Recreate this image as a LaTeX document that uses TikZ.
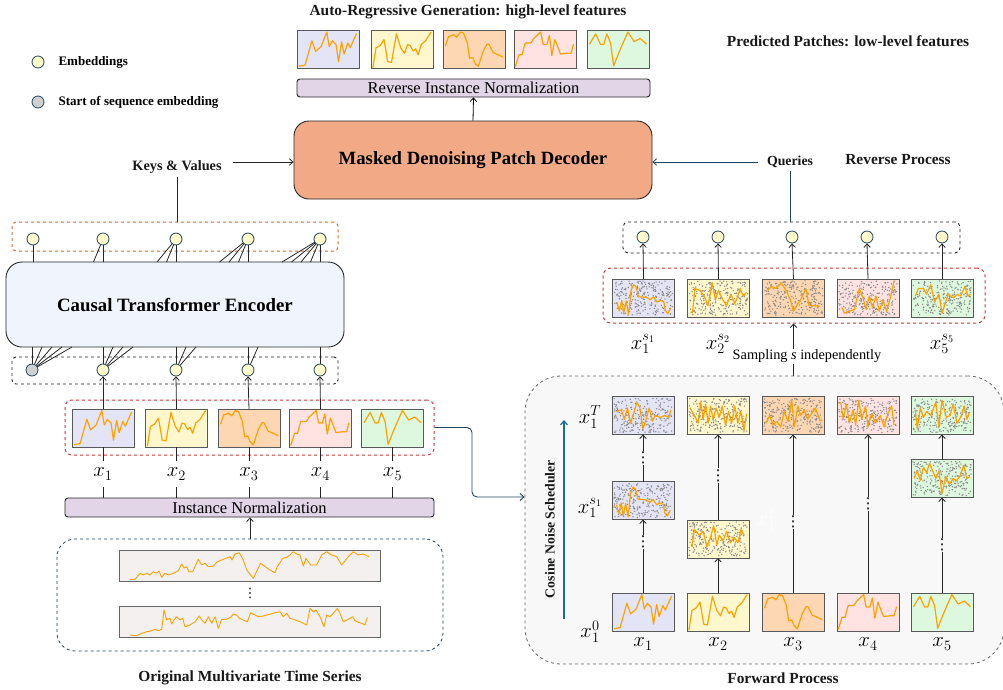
\documentclass[tikz,border=0pt]{standalone}
\usepackage{fontspec}
\setmainfont{Liberation Serif}
\newfontfamily\dvfont{DejaVu Sans}
\usetikzlibrary{arrows.meta,calc}
\definecolor{slate}{HTML}{23445D}
\definecolor{embc}{HTML}{FFFBCB}
\definecolor{sosc}{HTML}{D0D0D0}
\definecolor{pblue}{HTML}{E4E4F7}
\definecolor{pyel}{HTML}{FFF8CE}
\definecolor{porg}{HTML}{FDD7B3}
\definecolor{ppink}{HTML}{FFE2E2}
\definecolor{pgreen}{HTML}{DDF8DE}
\definecolor{sparkc}{HTML}{FFA200}
\definecolor{noisec}{HTML}{888888}
\definecolor{lav}{HTML}{E1D5E7}
\definecolor{decc}{HTML}{F2AA86}
\definecolor{encc}{HTML}{F0F5FD}
\definecolor{orgdash}{HTML}{DD6A2E}
\definecolor{reddash}{HTML}{D33434}
\definecolor{fwbg}{HTML}{F8F8F8}
\definecolor{schedc}{HTML}{15709A}
\definecolor{serbg}{HTML}{F4F0EF}

\newcommand\serA{(0.03,0.06) -- (0.13,0.09) -- (0.24,0.73) -- (0.30,0.45) -- (0.39,0.58) -- (0.48,0.96) -- (0.52,0.58) -- (0.57,0.73) -- (0.63,0.63) -- (0.67,0.18) -- (0.72,0.70) -- (0.76,0.38) -- (0.82,0.67) -- (0.86,0.55) -- (0.96,0.92)}
\newcommand\serB{(0.03,0.02) -- (0.08,0.54) -- (0.15,0.61) -- (0.21,0.76) -- (0.27,0.18) -- (0.33,0.16) -- (0.41,0.91) -- (0.48,0.54) -- (0.54,0.40) -- (0.59,0.63) -- (0.63,0.61) -- (0.68,0.46) -- (0.72,0.52) -- (0.76,0.36) -- (0.81,0.63) -- (0.88,0.73) -- (0.97,0.96)}
\newcommand\serC{(0.04,0.60) -- (0.09,0.84) -- (0.17,0.89) -- (0.22,0.82) -- (0.28,0.96) -- (0.33,0.93) -- (0.39,0.69) -- (0.43,0.27) -- (0.48,0.29) -- (0.52,0.13) -- (0.57,0.06) -- (0.65,0.46) -- (0.71,0.64) -- (0.74,0.64) -- (0.81,0.42) -- (0.89,0.36) -- (0.97,0.30)}
\newcommand\serD{(0.02,0.04) -- (0.08,0.36) -- (0.13,0.36) -- (0.18,0.67) -- (0.27,0.67) -- (0.32,0.79) -- (0.43,0.96) -- (0.47,0.63) -- (0.53,0.63) -- (0.57,0.87) -- (0.61,0.34) -- (0.66,0.76) -- (0.75,0.38) -- (0.84,0.40) -- (0.92,0.40) -- (0.96,0.64)}
\newcommand\serE{(0.04,0.64) -- (0.14,0.91) -- (0.22,0.63) -- (0.27,0.63) -- (0.32,0.91) -- (0.38,0.67) -- (0.43,0.07) -- (0.51,0.40) -- (0.58,0.67) -- (0.66,0.96) -- (0.76,0.71) -- (0.86,0.79) -- (0.96,0.64)}
\newcommand\nzA{(0.07,0.39) -- (0.11,0.16) -- (0.15,0.44) -- (0.18,0.09) -- (0.22,0.42) -- (0.26,0.07) -- (0.30,0.71) -- (0.34,0.85) -- (0.38,0.80) -- (0.42,0.53) -- (0.48,0.53) -- (0.56,0.51) -- (0.61,0.45) -- (0.66,0.53) -- (0.72,0.39) -- (0.78,0.44) -- (0.83,0.39) -- (0.85,0.18) -- (0.89,0.09) -- (0.94,0.24)}
\newcommand\nzB{(0.08,0.10) -- (0.12,0.75) -- (0.20,0.70) -- (0.27,0.55) -- (0.33,0.30) -- (0.40,0.90) -- (0.45,0.45) -- (0.50,0.70) -- (0.57,0.45) -- (0.63,0.30) -- (0.70,0.60) -- (0.76,0.35) -- (0.80,0.50) -- (0.85,0.75) -- (0.90,0.55) -- (0.95,0.65)}
\newcommand\nzC{(0.08,0.70) -- (0.15,0.80) -- (0.22,0.75) -- (0.30,0.90) -- (0.38,0.70) -- (0.45,0.45) -- (0.50,0.15) -- (0.57,0.35) -- (0.63,0.50) -- (0.70,0.75) -- (0.75,0.30) -- (0.82,0.30) -- (0.92,0.28)}
\newcommand\nzD{(0.08,0.25) -- (0.12,0.10) -- (0.20,0.15) -- (0.28,0.20) -- (0.36,0.75) -- (0.42,0.50) -- (0.47,0.20) -- (0.52,0.55) -- (0.57,0.25) -- (0.63,0.55) -- (0.68,0.15) -- (0.74,0.45) -- (0.80,0.15) -- (0.86,0.50) -- (0.92,0.95)}
\newcommand\nzE{(0.07,0.55) -- (0.12,0.75) -- (0.20,0.75) -- (0.25,0.60) -- (0.32,0.85) -- (0.38,0.40) -- (0.45,0.60) -- (0.50,0.10) -- (0.55,0.35) -- (0.60,0.60) -- (0.68,0.50) -- (0.75,0.60) -- (0.80,0.55) -- (0.87,0.80) -- (0.92,0.55) -- (0.96,0.60)}
\newcommand\ntA{(0.07,0.60) -- (0.15,0.65) -- (0.20,0.40) -- (0.25,0.70) -- (0.30,0.30) -- (0.35,0.55) -- (0.40,0.85) -- (0.45,0.70) -- (0.50,0.15) -- (0.55,0.40) -- (0.60,0.70) -- (0.65,0.35) -- (0.70,0.50) -- (0.78,0.45) -- (0.85,0.50) -- (0.92,0.45) -- (0.95,0.65)}
\newcommand\ntB{(0.05,0.70) -- (0.12,0.50) -- (0.18,0.30) -- (0.22,0.85) -- (0.26,0.40) -- (0.30,0.80) -- (0.34,0.30) -- (0.38,0.75) -- (0.42,0.40) -- (0.47,0.70) -- (0.52,0.45) -- (0.57,0.75) -- (0.62,0.25) -- (0.67,0.60) -- (0.72,0.30) -- (0.77,0.75) -- (0.82,0.30) -- (0.87,0.60) -- (0.92,0.10) -- (0.96,0.55)}
\newcommand\ntC{(0.07,0.30) -- (0.12,0.50) -- (0.18,0.25) -- (0.24,0.35) -- (0.30,0.20) -- (0.36,0.60) -- (0.42,0.35) -- (0.48,0.90) -- (0.52,0.20) -- (0.58,0.75) -- (0.62,0.50) -- (0.68,0.65) -- (0.74,0.40) -- (0.80,0.55) -- (0.86,0.70) -- (0.94,0.35)}
\newcommand\ntD{(0.06,0.85) -- (0.10,0.40) -- (0.15,0.80) -- (0.20,0.30) -- (0.26,0.65) -- (0.30,0.25) -- (0.35,0.90) -- (0.40,0.40) -- (0.46,0.75) -- (0.50,0.20) -- (0.56,0.55) -- (0.62,0.30) -- (0.70,0.50) -- (0.76,0.20) -- (0.82,0.55) -- (0.88,0.75) -- (0.92,0.25)}
\newcommand\ntE{(0.07,0.65) -- (0.10,0.15) -- (0.15,0.70) -- (0.20,0.45) -- (0.25,0.60) -- (0.32,0.50) -- (0.40,0.85) -- (0.45,0.20) -- (0.50,0.90) -- (0.57,0.45) -- (0.63,0.50) -- (0.68,0.80) -- (0.74,0.30) -- (0.80,0.45) -- (0.86,0.75) -- (0.90,0.40) -- (0.95,0.60)}
\newcommand\nmB{(0.08,0.30) -- (0.12,0.75) -- (0.20,0.60) -- (0.26,0.70) -- (0.32,0.30) -- (0.38,0.55) -- (0.43,0.85) -- (0.48,0.35) -- (0.52,0.60) -- (0.58,0.45) -- (0.64,0.70) -- (0.70,0.40) -- (0.76,0.55) -- (0.82,0.40) -- (0.87,0.75) -- (0.92,0.60)}
\newcommand\nmE{(0.05,0.50) -- (0.10,0.70) -- (0.15,0.45) -- (0.20,0.80) -- (0.25,0.65) -- (0.30,0.90) -- (0.35,0.70) -- (0.40,0.50) -- (0.45,0.70) -- (0.50,0.10) -- (0.56,0.55) -- (0.62,0.35) -- (0.68,0.50) -- (0.74,0.45) -- (0.80,0.60) -- (0.85,0.85) -- (0.90,0.50) -- (0.95,0.55)}

\newcommand\noisedots[1]{\begin{scope}[shift={(#1.south west)},x=62pt,y=38pt]
  \foreach \k in {1,...,240}{\fill[noisec] ({0.03+0.94*rnd},{0.05+0.9*rnd}) circle[radius=0.75pt];}
\end{scope}}
\newcommand\sparkin[2]{\begin{scope}[shift={(#1.south west)},x=62pt,y=38pt]
  \draw[sparkline] #2;
\end{scope}}
\newcommand\patch[5]{%
  \node[patchbox, fill=#3] (#1) at (#2) {};
  \ifnum#5=1 \noisedots{#1}\fi
  \sparkin{#1}{#4}}
\newcommand\hbf{\fontsize{15.4}{17}\selectfont\bfseries}
\newcommand\mlab{\fontsize{20}{22}\selectfont}
\newcommand\vdt{{\dvfont ⋮}}

\begin{document}
\begin{tikzpicture}[x=1pt,y=-1pt,
  patchbox/.style={draw=black!65, line width=0.8pt, minimum width=62pt, minimum height=38pt, inner sep=0pt, outer sep=0pt},
  sparkline/.style={draw=sparkc, line width=1.2pt, line join=round},
  emb/.style={circle, draw=slate, fill=embc, minimum size=12pt, inner sep=0pt, line width=0.8pt},
  sos/.style={emb, fill=sosc},
  arr/.style={-{Straight Barb[length=3.5pt,width=6.5pt]}, line width=0.8pt},
  conn/.style={line width=0.8pt, black!85},
  barbox/.style={draw=black!85, fill=lav, rounded corners=3pt, line width=0.9pt, inner sep=0pt},
  hd/.style={font=\hbf, text=black!90},
  ml/.style={font=\mlab, inner sep=0pt},
  vd/.style={fill=fwbg, text=black, inner sep=1pt, font=\fontsize{15}{15}\selectfont}
]
\useasboundingbox (0,0) rectangle (1003,689);
\pgfmathsetseed{11}

% ---------- Top: generation ----------
\node[hd] (title) at (468,12) {Auto-Regressive Generation: high-level features};
\patch{tp1}{328,49.5}{pblue}{\serA}{0}
\patch{tp2}{402,49.5}{pyel}{\serB}{0}
\patch{tp3}{474,49.5}{porg}{\serC}{0}
\patch{tp4}{545,49.5}{ppink}{\serD}{0}
\patch{tp5}{618,49.5}{pgreen}{\serE}{0}
\node[barbox, minimum width=353pt, minimum height=18pt, font=\fontsize{16.5}{18}\selectfont] (rn) at (473.5,88) {Reverse Instance Normalization};
\node[draw=black!85, fill=decc, rounded corners=15pt, line width=0.9pt, minimum width=358pt, minimum height=78pt, font=\fontsize{18.7}{22}\selectfont\bfseries] (dec) at (473,160) {Masked Denoising Patch Decoder};
\draw[arr] (dec.north) -- (rn.south);

\node[hd] (pp) at (848,41) {Predicted Patches: low-level features};
\node[hd] (rp) at (898,160) {Reverse Process};

% legend
\node[emb] (lg1) at (38,62) {};
\node[anchor=west, font=\fontsize{13}{15}\selectfont\bfseries] (lgt1) at (55,62) {Embeddings};
\node[sos] (lg2) at (38,102) {};
\node[anchor=west, font=\fontsize{13}{15}\selectfont\bfseries] (lgt2) at (55,102) {Start of sequence embedding};

% keys and queries
\node[hd, font=\fontsize{14.3}{16}\selectfont\bfseries] (kv) at (177,167) {Keys \& Values};
\coordinate (kva) at (233,162);
\draw[arr, black!85] (kva) -- (kva -| dec.west);
\node[hd, font=\fontsize{13.8}{16}\selectfont\bfseries] (qr) at (790,162) {Queries};
\coordinate (qra) at (758,162);
\draw[arr, slate] (qra) -- (qra -| dec.east);

% ---------- Encoder ----------
\node[draw=orgdash, dashed, rounded corners=4pt, line width=1pt, minimum width=326pt, minimum height=29pt, inner sep=0pt] (ob) at (175,236.5) {};
\draw[conn] (kv.south) -- (kv.south |- ob.north);
\node[draw=black!85, fill=encc, rounded corners=16pt, line width=0.9pt, minimum width=338pt, minimum height=85pt, font=\fontsize{18.8}{22}\selectfont\bfseries] (enc) at (175,304.5) {Causal Transformer Encoder};
\foreach \xx/\n in {33/0,103/1,176/2,248/3,320/4}{
  \foreach \k in {0,...,\n}{\draw[conn] (\xx-9.5*\k,262) -- (\xx,239);}
}
\foreach \xx [count=\i] in {33,103,176,248,320}{\node[emb] (e\i) at (\xx,239) {};}

\node[draw=black!85, dashed, rounded corners=4pt, line width=0.9pt, minimum width=326pt, minimum height=27pt, inner sep=0pt] (bb) at (175,370.5) {};
\foreach \xx/\n in {32/4,103/3,176/2,248/1,320/0}{
  \foreach \k in {0,...,\n}{\draw[conn] (\xx,370) -- (\xx+10*\k,347);}
}
\node[sos] (b0) at (32,370) {};
\foreach \xx [count=\i] in {103,176,248,320}{\node[emb] (b\i) at (\xx,370) {};}

% input patches
\node[draw=reddash, dashed, rounded corners=7pt, line width=1pt, minimum width=369pt, minimum height=55pt, inner sep=0pt] (rb) at (249.5,427.5) {};
\patch{lp1}{103,428}{pblue}{\serA}{0}
\patch{lp2}{176.5,428}{pyel}{\serB}{0}
\patch{lp3}{249,428}{porg}{\serC}{0}
\patch{lp4}{320.5,428}{ppink}{\serD}{0}
\patch{lp5}{392.5,428}{pgreen}{\serE}{0}
\foreach \i in {1,2,3,4}{\draw[arr, black!85] (lp\i.north) -- (b\i.south);}

\node[barbox, minimum width=369pt, minimum height=19pt, font=\fontsize{16.5}{18}\selectfont] (inb) at (249.5,507.5) {Instance Normalization};
\foreach \i/\xx in {1/103,2/176.5,3/249,4/320.5,5/392.5}{
  \node[ml] (lx\i) at (\xx,474) {$x_{\i}$};
  \draw[conn] (lp\i.south) -- ++(0,14);
  \draw[conn] (lp\i.south |- 0,487) -- (lp\i.south |- inb.north);
}

\node[draw=slate, dashed, rounded corners=18pt, line width=0.8pt, minimum width=386pt, minimum height=112pt, inner sep=0pt] (osb) at (250,595) {};
\draw[arr, black!85] (osb.north) -- (inb.south -| osb.north);
\node[draw=black!60, fill=serbg, line width=0.8pt, minimum width=261pt, minimum height=31pt, inner sep=0pt] (sr1) at (249.5,565.5) {};
\node[draw=black!60, fill=serbg, line width=0.8pt, minimum width=261pt, minimum height=31pt, inner sep=0pt] (sr2) at (249.5,621.5) {};
\draw[sparkline, line width=0.9pt] (130,579.3) -- (135,579.3) -- (140,573.3) -- (143.3,575) -- (146.7,573.3) -- (150,575) -- (153.3,571.7) -- (156.7,573.3) -- (159,571) -- (161.7,577.3) -- (165,573.3) -- (168.3,575) -- (173.3,573.3) -- (178.3,570.7) -- (181.7,564) -- (184,568) -- (186.7,566.7) -- (189,572) -- (192.7,571.7) -- (198.3,559.3) -- (201.7,565) -- (205,563.3) -- (208.3,566.7) -- (213.3,566) -- (217.3,561.7) -- (221.7,560) -- (226,558.3) -- (230,556.7) -- (232,560) -- (235,554) -- (239.3,552.7) -- (243.3,560) -- (246.7,570) -- (253.3,578.3) -- (257.3,570) -- (260.7,563.3) -- (265,566.7) -- (270,570) -- (275,572.7) -- (277.3,566.7) -- (282.7,558.3) -- (286.7,557.3) -- (290,555) -- (293.3,551.7) -- (296.7,554) -- (300,555) -- (303.3,566) -- (306,558.3) -- (310.7,565) -- (316.7,565) -- (321.7,555) -- (326.7,551.7) -- (331.7,555) -- (336.7,556.7) -- (341.7,565) -- (348.3,556.7) -- (353.3,551.7) -- (358.3,555) -- (363.3,554) -- (369,556.7);
\draw[sparkline, line width=0.9pt] (130,635) -- (136.7,635.7) -- (141.7,633.3) -- (146.7,631.7) -- (151.7,630.7) -- (155,629.3) -- (158.3,630.7) -- (161.7,629.3) -- (164,610) -- (166.7,620) -- (170,618.3) -- (171.7,624) -- (174,620) -- (176.7,616.7) -- (180,620) -- (182.7,618.3) -- (185,626.7) -- (190,625) -- (195,621.7) -- (199.3,616) -- (201.7,620) -- (205,623.3) -- (208.3,616.7) -- (211.7,623.3) -- (215,616.7) -- (218.3,628.3) -- (221.7,619.3) -- (226.7,619.3) -- (230.7,617.3) -- (233.3,614) -- (236.7,615) -- (239.3,618.3) -- (243.3,620) -- (247.3,621.7) -- (250.7,612.7) -- (255,615) -- (258.3,616.7) -- (263.3,616) -- (266.7,615) -- (270.7,614) -- (275,612.7) -- (280,611.7) -- (283.3,616.7) -- (286.7,613.3) -- (290,618.3) -- (295,620) -- (300,621.7) -- (303.3,623.3) -- (306.7,625) -- (310,608.3) -- (313.3,611.7) -- (316,610) -- (320,616.7) -- (324,626.7) -- (326.7,615) -- (330,616.7) -- (333.3,613.3) -- (337.3,608.3) -- (340,613.3) -- (343.3,621.7) -- (348.3,619.3) -- (352.7,616.7) -- (355,620.7) -- (358.3,622.3) -- (361.7,623.3) -- (365,625) -- (367.3,617.3);
\node[inner sep=0pt, font=\fontsize{13}{13}\selectfont] (osd) at (250,593) {\vdt};
\node[hd] (ost) at (250,678) {Original Multivariate Time Series};

% ---------- Forward process ----------
\node[draw=black!60, dashed, fill=fwbg, rounded corners=36pt, line width=0.8pt, minimum width=479pt, minimum height=288pt, inner sep=0pt] (fw) at (764.5,520) {};
\coordinate (cA) at (472,497);
\draw[slate, line width=0.9pt, rounded corners=5pt, -{Straight Barb[length=4pt,width=7pt]}] (rb.east) -| (cA) -- (cA -| fw.west);
\node[hd] (fwt) at (783,678) {Forward Process};
\node[hd, rotate=90, font=\fontsize{13.8}{16}\selectfont\bfseries] (cns) at (550,529) {Cosine Noise Scheduler};
\draw[schedc, line width=1.2pt, -{Straight Barb[length=4pt,width=7pt]}] (564,619) coordinate (scA) -- (564,420) coordinate (scB);
\node[ml] (lT) at (590,417) {$x_1^{T}$};
\node[ml] (lS) at (590,508) {$x_1^{s_1}$};
\node[ml] (l0) at (590,632) {$x_1^{0}$};
\node[ml, text=white] (ghost) at (766,520) {$x_1^{1}$};

\patch{fT1}{643,415.5}{pblue}{\ntA}{1}
\patch{fT2}{718,415.5}{pyel}{\ntB}{1}
\patch{fT3}{793,415.5}{porg}{\ntC}{1}
\patch{fT4}{868,415.5}{ppink}{\ntD}{1}
\patch{fT5}{942,415.5}{pgreen}{\ntE}{1}
\patch{f1m}{643,500.5}{pblue}{\nzA}{1}
\patch{f2m}{718,539}{pyel}{\nmB}{1}
\patch{f5m}{942,478.5}{pgreen}{\nmE}{1}
\patch{fB1}{643,612}{pblue}{\serA}{0}
\patch{fB2}{718,612}{pyel}{\serB}{0}
\patch{fB3}{793,612}{porg}{\serC}{0}
\patch{fB4}{868,612}{ppink}{\serD}{0}
\patch{fB5}{942,612}{pgreen}{\serE}{0}
\foreach \i/\xx in {1/643,2/718,3/793,4/868,5/942}{\node[ml] (fx\i) at (\xx,644) {$x_{\i}$};}

\draw[arr, black!85] (fB1.north) -- (f1m.south) node[vd, pos=0.7] {\vdt};
\draw[arr, black!85] (f1m.north) -- (fT1.south) node[vd, pos=0.5] {\vdt};
\draw[arr, black!85] (fB2.north) -- (f2m.south);
\draw[arr, black!85] (f2m.north) -- (fT2.south) node[vd, pos=0.52] {\vdt};
\draw[arr, black!85] (fB3.north) -- (fT3.south) node[vd, pos=0.45] {\vdt};
\draw[arr, black!85] (fB4.north) -- (fT4.south) node[vd, pos=0.56] {\vdt};
\draw[arr, black!85] (fB5.north) -- (f5m.south) node[vd, pos=0.5] {\vdt};
\draw[arr, black!85] (f5m.north) -- (fT5.south);

% ---------- Reverse side ----------
\node[draw=black!85, dashed, rounded corners=5pt, line width=0.9pt, minimum width=337pt, minimum height=31pt, inner sep=0pt] (qb) at (791.5,237.5) {};
\draw[slate, line width=0.9pt] (qr.south) -- (qr.south |- qb.north);
\foreach \xx [count=\i] in {643,718,792,867,942}{\node[emb] (q\i) at (\xx,237) {};}
\node[draw=reddash, dashed, rounded corners=8pt, line width=1pt, minimum width=382pt, minimum height=55pt, inner sep=0pt] (rb2) at (794,295.5) {};
\patch{rp1}{643.5,298}{pblue}{\nzA}{1}
\patch{rp2}{718.5,298}{pyel}{\nzB}{1}
\patch{rp3}{793.5,298}{porg}{\nzC}{1}
\patch{rp4}{868,298}{ppink}{\nzD}{1}
\patch{rp5}{942,298}{pgreen}{\nzE}{1}
\foreach \i in {1,...,5}{\draw[arr, black!85] (rp\i.north) -- (q\i.south);}
\node[ml] (rl1) at (643,344) {$x_1^{s_1}$};
\node[ml] (rl2) at (718,344) {$x_2^{s_2}$};
\node[ml] (rl5) at (942,344) {$x_5^{s_5}$};
\draw[arr, black!85] (fw.north -| rp3) -- (rb2.south -| rp3);
\node[fill=white, inner sep=1pt, font=\fontsize{14.3}{16}\selectfont] (samp) at (807,356) {Sampling \textit{s} independently};
\end{tikzpicture}
\end{document}
